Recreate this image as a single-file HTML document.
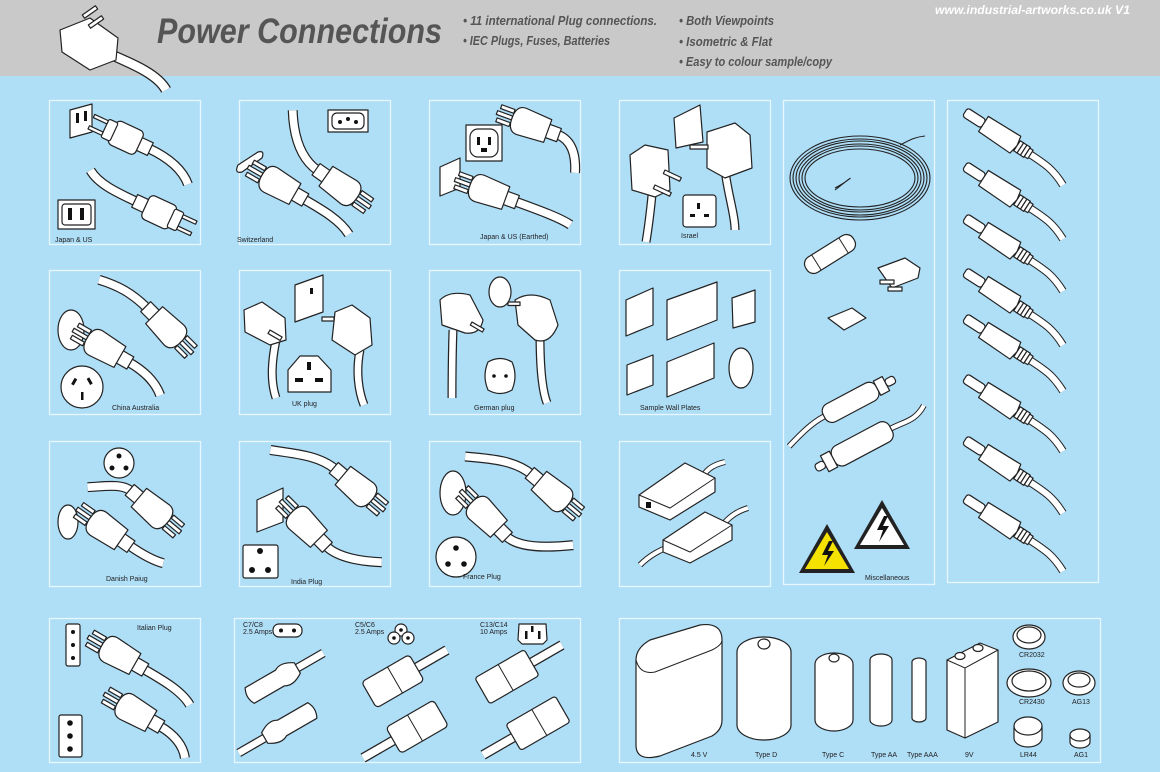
<!DOCTYPE html>
<html><head><meta charset="utf-8"><style>
html,body{margin:0;padding:0;background:#afdef7;}
svg{display:block;font-family:"Liberation Sans",sans-serif;}
.o{fill:#fff;stroke:#222;stroke-width:1.2;stroke-linejoin:round}
.k{fill:#111}
.ca{fill:none;stroke:#222;stroke-width:10}
.cb{fill:none;stroke:#fff;stroke-width:7.6}
.lb{font-size:7px;fill:#222}
.hd{font-style:italic;font-weight:bold;fill:#555;font-size:12.5px}
</style></head><body>
<svg width="1160" height="772" viewBox="0 0 1160 772" xmlns="http://www.w3.org/2000/svg">
<defs>
<g id="pl">
<rect x="-50" y="-7" width="14" height="14" class="o"/>
<rect x="-38" y="-13" width="30" height="26" rx="5" class="o"/>
<rect x="-10" y="-10" width="10" height="20" rx="2" class="o"/>
<rect x="0" y="-8" width="15" height="3.5" class="o"/>
<rect x="0" y="4.5" width="15" height="3.5" class="o"/>
</g>
<g id="pl3">
<rect x="-50" y="-7" width="14" height="14" class="o"/>
<path d="M-38,-12 L-10,-14 Q0,-14 0,0 Q0,14 -10,14 L-38,12 Z" class="o"/>
<rect x="0" y="-9" width="14" height="4" class="o"/>
<rect x="0" y="5" width="14" height="4" class="o"/>
<rect x="0" y="-2" width="16" height="4" class="o"/>
</g>
<g id="jk">
<path d="M78,0 C95,0 105,0 122,8" fill="none" stroke="#222" stroke-width="8"/><path d="M78,0 C95,0 105,0 122,8" fill="none" stroke="#fff" stroke-width="6"/>
<rect x="0" y="-5" width="22" height="10" rx="3" class="o"/>
<path d="M22,-9 L60,-10 L62,0 L60,10 L22,9 Z" class="o"/>
<rect x="62" y="-6" width="4" height="12" class="o"/><rect x="66" y="-6" width="4" height="12" class="o"/><rect x="70" y="-6" width="4" height="12" class="o"/><rect x="74" y="-5" width="4" height="10" class="o"/>
</g>
</defs>

<!-- header -->
<rect x="0" y="0" width="1160" height="76" fill="#c9c9c9"/>
<path d="M112,55 C135,65 158,75 166,90" fill="none" stroke="#222" stroke-width="11"/>
<path d="M112,55 C135,65 158,75 166,90" fill="none" stroke="#fff" stroke-width="8.5"/>
<path d="M60,30 L90,18 L118,38 L116,60 L90,70 L62,52 Z" class="o"/>
<rect x="82" y="10" width="16" height="4" class="o" transform="rotate(-35 90 12)"/>
<rect x="88" y="20" width="16" height="4" class="o" transform="rotate(-35 96 22)"/>
<text x="157" y="43" font-size="35" font-weight="bold" font-style="italic" fill="#555" textLength="285" lengthAdjust="spacingAndGlyphs">Power Connections</text>
<text x="463" y="25" class="hd" textLength="194" lengthAdjust="spacingAndGlyphs">• 11 international Plug connections.</text>
<text x="463" y="45" class="hd" textLength="147" lengthAdjust="spacingAndGlyphs">• IEC Plugs, Fuses, Batteries</text>
<text x="679" y="25" class="hd" textLength="95" lengthAdjust="spacingAndGlyphs">• Both Viewpoints</text>
<text x="679" y="46" class="hd" textLength="93" lengthAdjust="spacingAndGlyphs">• Isometric  &amp; Flat</text>
<text x="679" y="66" class="hd" textLength="153" lengthAdjust="spacingAndGlyphs">• Easy to colour sample/copy</text>
<text x="935" y="14" font-size="12" font-weight="bold" font-style="italic" fill="#fff" textLength="195" lengthAdjust="spacingAndGlyphs">www.industrial-artworks.co.uk   V1</text>

<!-- panels -->
<g fill="none" stroke="#e8f6fd" stroke-width="1.3">
<rect x="49.5" y="100.5" width="151" height="144"/><rect x="239.5" y="100.5" width="151" height="144"/><rect x="429.5" y="100.5" width="151" height="144"/><rect x="619.5" y="100.5" width="151" height="144"/>
<rect x="783.5" y="100.5" width="151" height="484"/><rect x="947.5" y="100.5" width="151" height="482"/>
<rect x="49.5" y="270.5" width="151" height="144"/><rect x="239.5" y="270.5" width="151" height="144"/><rect x="429.5" y="270.5" width="151" height="144"/><rect x="619.5" y="270.5" width="151" height="144"/>
<rect x="49.5" y="441.5" width="151" height="145"/><rect x="239.5" y="441.5" width="151" height="145"/><rect x="429.5" y="441.5" width="151" height="145"/><rect x="619.5" y="441.5" width="151" height="145"/>
<rect x="49.5" y="618.5" width="151" height="144"/><rect x="234.5" y="618.5" width="346" height="144"/><rect x="619.5" y="618.5" width="481" height="144"/>
</g>

<!-- Japan & US -->
<path d="M70,110 L92,104 L92,132 L70,138 Z" class="o"/><rect x="76" y="113" width="3" height="10" class="k"/><rect x="84" y="111" width="3" height="10" class="k"/>
<g transform="translate(105,128) rotate(205)"><path d="M-48,0 C-70,0 -88,-5 -99,-16" class="ca"/><path d="M-48,0 C-70,0 -88,-5 -99,-16" class="cb"/><use href="#pl"/></g>
<g transform="translate(180,222) rotate(25)"><path d="M-48,0 C-70,0 -90,0 -103,-9" class="ca"/><path d="M-48,0 C-70,0 -90,0 -103,-9" class="cb"/><use href="#pl"/></g>
<rect x="58" y="200" width="37" height="29" class="o"/><rect x="62" y="204" width="29" height="21" rx="3" class="o"/><rect x="68" y="208" width="4" height="12" class="k"/><rect x="80" y="208" width="4" height="12" class="k"/>
<text x="55" y="242" class="lb">Japan &amp; US</text>

<!-- Switzerland -->
<rect x="328" y="110" width="40" height="22" class="o"/><rect x="332" y="113" width="32" height="16" rx="5" class="o"/><circle cx="340" cy="122" r="2" class="k"/><circle cx="348" cy="119" r="2" class="k"/><circle cx="356" cy="122" r="2" class="k"/>
<path d="M238,165 L258,152 Q265,150 262,158 L242,172 Q234,174 238,165Z" class="o"/>
<g transform="translate(357,198) rotate(35)"><path d="M-48,0 C-70,0 -88,-15 -103,-35" class="ca"/><path d="M-48,0 C-70,0 -88,-15 -103,-35" class="cb"/><use href="#pl3"/></g>
<g transform="translate(262,175) rotate(210)"><path d="M-48,0 C-70,0 -90,0 -105,-8" class="ca"/><path d="M-48,0 C-70,0 -90,0 -105,-8" class="cb"/><use href="#pl3"/></g>
<text x="237" y="242" class="lb">Switzerland</text>

<!-- Japan US earthed -->
<rect x="466" y="125" width="36" height="36" class="o"/><rect x="470" y="129" width="28" height="28" rx="8" class="o"/><rect x="477" y="137" width="3" height="8" class="k"/><rect x="488" y="137" width="3" height="8" class="k"/><rect x="481" y="148" width="6" height="4" class="k"/>
<path d="M440,167 L460,158 L460,188 L440,196 Z" class="o"/>
<g transform="translate(512,118) rotate(200)"><path d="M-48,0 C-62,0 -72,-10 -78,-30" class="ca"/><path d="M-48,0 C-62,0 -72,-10 -78,-30" class="cb"/><use href="#pl3"/></g>
<g transform="translate(470,185) rotate(200)"><path d="M-48,0 C-75,0 -95,0 -108,-3" class="ca"/><path d="M-48,0 C-75,0 -95,0 -108,-3" class="cb"/><use href="#pl3"/></g>
<text x="480" y="239" class="lb">Japan &amp; US (Earthed)</text>

<!-- Israel -->
<path d="M652,195 C650,215 648,230 646,242" fill="none" stroke="#222" stroke-width="9"/><path d="M652,195 C650,215 648,230 646,242" fill="none" stroke="#fff" stroke-width="6.5"/>
<path d="M725,170 C728,195 735,215 735,230" fill="none" stroke="#222" stroke-width="9"/><path d="M725,170 C728,195 735,215 735,230" fill="none" stroke="#fff" stroke-width="6.5"/>
<path d="M630,155 L645,145 L668,150 L670,190 L655,197 L632,190 Z" class="o"/>
<rect x="665" y="170" width="18" height="4" class="o" transform="rotate(25 665 170)"/><rect x="655" y="185" width="18" height="4" class="o" transform="rotate(25 655 185)"/>
<path d="M707,132 L735,123 L750,135 L752,168 L725,178 L707,168 Z" class="o"/>
<rect x="690" y="145" width="18" height="4" class="o"/>
<path d="M674,118 L700,105 L703,142 L676,148 Z" class="o"/>
<rect x="683" y="195" width="33" height="32" rx="3" class="o"/><rect x="697" y="203" width="3" height="6" class="k"/><rect x="690" y="214" width="5" height="3" class="k"/><rect x="704" y="214" width="5" height="3" class="k"/>
<text x="681" y="238" class="lb">Israel</text>

<!-- Miscellaneous -->
<g fill="none" stroke="#222" stroke-width="1.1">
<ellipse cx="860" cy="178" rx="70" ry="42"/><ellipse cx="860" cy="178" rx="67" ry="39"/><ellipse cx="860" cy="178" rx="64" ry="37"/><ellipse cx="860" cy="178" rx="61" ry="34"/><ellipse cx="860" cy="178" rx="58" ry="32"/><ellipse cx="860" cy="178" rx="55" ry="29"/>
<path d="M900,145 C910,140 915,137 925,136"/><path d="M835,188 C850,180 860,170 835,190"/>
</g>
<g transform="translate(830,254) rotate(-32)"><rect x="-28" y="-9" width="56" height="18" rx="8" class="o"/><line x1="-16" y1="-9" x2="-16" y2="9" stroke="#222"/><line x1="16" y1="-9" x2="16" y2="9" stroke="#222"/></g>
<path d="M878,268 L905,258 L920,268 L918,278 L892,288 Z" class="o"/><rect x="880" y="280" width="14" height="4" class="o"/><rect x="888" y="287" width="14" height="4" class="o"/>
<path d="M828,318 L852,308 L866,318 L844,330 Z" class="o"/>
<g transform="translate(855,400) rotate(-28)"><path d="M-35,0 C-50,0 -65,5 -80,10" fill="none" stroke="#222" stroke-width="6"/><path d="M-35,0 C-50,0 -65,5 -80,10" fill="none" stroke="#fff" stroke-width="4"/><rect x="-35" y="-10" width="60" height="20" rx="8" class="o"/><rect x="25" y="-8" width="10" height="16" class="o"/><rect x="35" y="-4" width="10" height="8" rx="3" class="o"/></g>
<g transform="translate(860,445) rotate(152)"><path d="M-35,0 C-50,0 -60,-5 -75,5" fill="none" stroke="#222" stroke-width="6"/><path d="M-35,0 C-50,0 -60,-5 -75,5" fill="none" stroke="#fff" stroke-width="4"/><rect x="-35" y="-11" width="65" height="22" rx="8" class="o"/><rect x="30" y="-9" width="10" height="18" class="o"/><rect x="40" y="-4" width="10" height="8" rx="3" class="o"/></g>
<path d="M827,524 L855,573 L799,573 Z" fill="#222"/><path d="M827,532 L849,569 L805,569 Z" fill="#f5e200"/><path d="M829,541 L822,555 L828,555 L824,566 L834,551 L828,551 L833,541Z" fill="#111"/>
<path d="M882,500 L910,549 L854,549 Z" fill="#222"/><path d="M882,508 L904,545 L860,545 Z" fill="#fff"/><path d="M884,516 L877,530 L883,530 L879,542 L889,526 L883,526 L888,516Z" fill="#111"/>
<text x="865" y="580" class="lb">Miscellaneous</text>

<!-- jacks -->
<use href="#jk" transform="translate(965,112) rotate(33)"/>
<use href="#jk" transform="translate(965,166) rotate(33)"/>
<use href="#jk" transform="translate(965,218) rotate(33)"/>
<use href="#jk" transform="translate(965,272) rotate(33)"/>
<use href="#jk" transform="translate(965,318) rotate(33)"/>
<use href="#jk" transform="translate(965,378) rotate(33)"/>
<use href="#jk" transform="translate(965,440) rotate(33)"/>
<use href="#jk" transform="translate(965,498) rotate(33)"/>

<!-- China Australia -->
<ellipse cx="71" cy="330" rx="13" ry="20" class="o"/><circle cx="82" cy="387" r="21" class="o"/><rect x="73" y="378" width="3" height="7" class="k" transform="rotate(30 74 381)"/><rect x="88" y="378" width="3" height="7" class="k" transform="rotate(-30 89 381)"/><rect x="81" y="392" width="2.5" height="8" class="k"/>
<g transform="translate(181,342) rotate(45)"><path d="M-48,0 C-70,0 -85,5 -102,14" class="ca"/><path d="M-48,0 C-70,0 -85,5 -102,14" class="cb"/><use href="#pl3"/></g>
<g transform="translate(87,338) rotate(210)"><path d="M-48,0 C-65,0 -80,-3 -92,-13" class="ca"/><path d="M-48,0 C-65,0 -80,-3 -92,-13" class="cb"/><use href="#pl3"/></g>
<text x="112" y="410" class="lb">China Australia</text>

<!-- UK -->
<path d="M276,340 C272,360 270,380 276,398" class="ca" style="stroke-width:9"/><path d="M276,340 C272,360 270,380 276,398" class="cb" style="stroke-width:6.5"/>
<path d="M360,350 C356,370 358,390 364,405" class="ca" style="stroke-width:9"/><path d="M360,350 C356,370 358,390 364,405" class="cb" style="stroke-width:6.5"/>
<path d="M244,310 L262,302 L285,318 L286,340 L270,345 L245,332 Z" class="o"/><rect x="270" y="330" width="14" height="4" class="o" transform="rotate(30 270 330)"/>
<path d="M335,312 L352,305 L370,318 L372,345 L355,355 L332,340 Z" class="o"/><rect x="322" y="317" width="12" height="4" class="o"/>
<path d="M295,285 L323,275 L323,312 L295,322 Z" class="o"/><rect x="310" y="288" width="3" height="6" class="k"/>
<path d="M300,356 L318,356 L331,370 L331,392 L288,392 L288,370 Z" class="o"/><rect x="307" y="362" width="4" height="8" class="k"/><rect x="295" y="378" width="8" height="4" class="k"/><rect x="315" y="378" width="8" height="4" class="k"/>
<text x="292" y="406" class="lb">UK plug</text>

<!-- German -->
<path d="M453,330 C452,360 452,380 452,398" class="ca" style="stroke-width:9"/><path d="M453,330 C452,360 452,380 452,398" class="cb" style="stroke-width:6.5"/>
<path d="M540,335 C540,365 542,390 547,403" class="ca" style="stroke-width:9"/><path d="M540,335 C540,365 542,390 547,403" class="cb" style="stroke-width:6.5"/>
<path d="M440,300 Q450,290 470,295 L483,320 Q480,335 465,333 L442,325 Z" class="o"/><rect x="472" y="322" width="14" height="3.5" class="o" transform="rotate(30 472 322)"/>
<path d="M515,300 Q530,290 550,300 L558,325 Q550,345 535,340 L518,325 Z" class="o"/><rect x="508" y="302" width="12" height="3.5" class="o"/>
<ellipse cx="500" cy="292" rx="11" ry="15" class="o"/>
<path d="M488,362 Q500,355 512,362 Q518,376 512,390 Q500,397 488,390 Q482,376 488,362Z" class="o"/><circle cx="494" cy="376" r="1.8" class="k"/><circle cx="506" cy="376" r="1.8" class="k"/>
<text x="474" y="410" class="lb">German plug</text>

<!-- Wall plates -->
<path d="M626,300 L653,288 L653,325 L626,336 Z" class="o"/><path d="M667,300 L717,282 L717,320 L667,340 Z" class="o"/><path d="M732,298 L755,290 L755,322 L733,328 Z" class="o"/>
<path d="M627,365 L653,355 L653,385 L627,395 Z" class="o"/><path d="M667,362 L714,343 L714,378 L667,397 Z" class="o"/><ellipse cx="741" cy="368" rx="12" ry="20" class="o"/>
<text x="640" y="410" class="lb">Sample Wall Plates</text>

<!-- Danish -->
<circle cx="119" cy="463" r="15" class="o"/><circle cx="119" cy="456" r="2.5" class="k"/><circle cx="112" cy="468" r="2.5" class="k"/><circle cx="126" cy="468" r="2.5" class="k"/>
<ellipse cx="68" cy="522" rx="10" ry="17" class="o"/>
<g transform="translate(168,522) rotate(40)"><path d="M-48,0 C-60,0 -70,12 -84,25" class="ca"/><path d="M-48,0 C-60,0 -70,12 -84,25" class="cb"/><use href="#pl3"/></g>
<g transform="translate(90,518) rotate(215)"><path d="M-48,0 C-65,0 -78,2 -86,5" class="ca"/><path d="M-48,0 C-65,0 -78,2 -86,5" class="cb"/><use href="#pl3"/></g>
<text x="106" y="581" class="lb">Danish Paiug</text>

<!-- India -->
<g transform="translate(372,500) rotate(40)"><path d="M-48,0 C-70,0 -90,15 -110,27" class="ca"/><path d="M-48,0 C-70,0 -90,15 -110,27" class="cb"/><use href="#pl3"/></g>
<path d="M257,500 L283,488 L283,522 L257,532 Z" class="o"/>
<rect x="243" y="545" width="35" height="33" rx="2" class="o"/><circle cx="260" cy="551" r="3" class="k"/><circle cx="252" cy="570" r="3" class="k"/><circle cx="268" cy="570" r="3" class="k"/>
<g transform="translate(292,512) rotate(225)"><path d="M-48,0 C-65,0 -85,15 -99,28" class="ca"/><path d="M-48,0 C-65,0 -85,15 -99,28" class="cb"/><use href="#pl3"/></g>
<text x="291" y="584" class="lb">India Plug</text>

<!-- France -->
<g transform="translate(568,505) rotate(40)"><path d="M-48,0 C-70,0 -90,15 -110,29" class="ca"/><path d="M-48,0 C-70,0 -90,15 -110,29" class="cb"/><use href="#pl3"/></g>
<ellipse cx="453" cy="493" rx="13" ry="22" class="o"/>
<g transform="translate(472,502) rotate(225)"><path d="M-48,0 C-65,0 -85,20 -102,41" class="ca"/><path d="M-48,0 C-65,0 -85,20 -102,41" class="cb"/><use href="#pl3"/></g>
<circle cx="456" cy="557" r="20" class="o"/><circle cx="456" cy="548" r="2.8" class="k"/><circle cx="448" cy="564" r="2.8" class="k"/><circle cx="464" cy="564" r="2.8" class="k"/>
<text x="463" y="579" class="lb">France Plug</text>

<!-- Adapters -->
<path d="M700,482 C705,470 712,465 725,462" fill="none" stroke="#222" stroke-width="6"/><path d="M700,482 C705,470 712,465 725,462" fill="none" stroke="#fff" stroke-width="4"/>
<path d="M720,528 C728,518 735,512 748,508" fill="none" stroke="#222" stroke-width="6"/><path d="M720,528 C728,518 735,512 748,508" fill="none" stroke="#fff" stroke-width="4"/>
<path d="M673,545 C660,550 650,555 640,565" fill="none" stroke="#222" stroke-width="6"/><path d="M673,545 C660,550 650,555 640,565" fill="none" stroke="#fff" stroke-width="4"/>
<path d="M639,495 L685,463 L715,478 L715,492 L670,520 L639,507 Z" class="o"/><path d="M639,495 L670,508 L715,478" fill="none" stroke="#222"/><rect x="646" y="502" width="5" height="6" class="k"/>
<path d="M663,540 L705,512 L732,525 L732,540 L690,563 L663,552 Z" class="o"/><path d="M663,540 L690,552 L732,525" fill="none" stroke="#222"/>

<!-- Italian -->
<rect x="66" y="624" width="14" height="42" rx="2" class="o"/><circle cx="73" cy="632" r="2" class="k"/><circle cx="73" cy="645" r="2" class="k"/><circle cx="73" cy="658" r="2" class="k"/>
<g transform="translate(102,645) rotate(210)"><path d="M-48,0 C-70,0 -92,0 -106,-8" class="ca"/><path d="M-48,0 C-70,0 -92,0 -106,-8" class="cb"/><use href="#pl3"/></g>
<g transform="translate(118,702) rotate(210)"><path d="M-48,0 C-65,0 -78,-5 -86,-15" class="ca"/><path d="M-48,0 C-65,0 -78,-5 -86,-15" class="cb"/><use href="#pl3"/></g>
<rect x="59" y="715" width="23" height="42" rx="2" class="o"/><circle cx="70" cy="723" r="2.8" class="k"/><circle cx="70" cy="736" r="2.8" class="k"/><circle cx="70" cy="749" r="2.8" class="k"/>
<text x="137" y="630" class="lb">Italian Plug</text>

<!-- IEC -->
<text x="243" y="627" class="lb">C7/C8</text><text x="243" y="634" class="lb">2.5 Amps</text>
<text x="355" y="627" class="lb">C5/C6</text><text x="355" y="634" class="lb">2.5 Amps</text>
<text x="480" y="627" class="lb">C13/C14</text><text x="480" y="634" class="lb">10 Amps</text>
<rect x="273" y="624" width="29" height="13" rx="6" class="o"/><circle cx="281" cy="630.5" r="2" class="k"/><circle cx="294" cy="630.5" r="2" class="k"/>
<circle cx="401" cy="630" r="6" class="o"/><circle cx="394" cy="638" r="6" class="o"/><circle cx="408" cy="638" r="6" class="o"/><circle cx="401" cy="630" r="1.8" class="k"/><circle cx="394" cy="638" r="1.8" class="k"/><circle cx="408" cy="638" r="1.8" class="k"/>
<path d="M519,624 L546,624 L547,640 L543,644 L522,644 L518,640 Z" class="o"/><rect x="525" y="631" width="2.5" height="8" class="k"/><rect x="538" y="631" width="2.5" height="8" class="k"/><rect x="531" y="626" width="2.5" height="6" class="k"/>
<g transform="translate(280,678) rotate(-30)"><path d="M20,0 L50,0" class="ca" style="stroke-width:9"/><path d="M20,0 L50,0" class="cb" style="stroke-width:6.5"/><path d="M-35,-9 L0,-9 Q8,-14 20,-6 L20,6 Q8,14 0,9 L-35,9 Q-40,0 -35,-9Z" class="o"/></g>
<g transform="translate(282,728) rotate(150)"><path d="M20,0 L50,0" class="ca" style="stroke-width:9"/><path d="M20,0 L50,0" class="cb" style="stroke-width:6.5"/><path d="M-35,-9 L0,-9 Q8,-14 20,-6 L20,6 Q8,14 0,9 L-35,9 Q-40,0 -35,-9Z" class="o"/></g>
<g transform="translate(395,680) rotate(-30)"><path d="M25,0 L60,0" class="ca" style="stroke-width:10"/><path d="M25,0 L60,0" class="cb" style="stroke-width:7.5"/><rect x="-30" y="-15" width="55" height="30" rx="4" class="o"/><line x1="0" y1="-15" x2="0" y2="15" stroke="#222"/></g>
<g transform="translate(415,728) rotate(150)"><path d="M25,0 L60,0" class="ca" style="stroke-width:10"/><path d="M25,0 L60,0" class="cb" style="stroke-width:7.5"/><rect x="-30" y="-15" width="55" height="30" rx="4" class="o"/><line x1="0" y1="-15" x2="0" y2="15" stroke="#222"/></g>
<g transform="translate(510,675) rotate(-30)"><path d="M25,0 L60,0" class="ca" style="stroke-width:10"/><path d="M25,0 L60,0" class="cb" style="stroke-width:7.5"/><rect x="-32" y="-15" width="57" height="30" rx="3" class="o"/><line x1="-5" y1="-15" x2="-5" y2="15" stroke="#222"/></g>
<g transform="translate(535,725) rotate(150)"><path d="M25,0 L60,0" class="ca" style="stroke-width:10"/><path d="M25,0 L60,0" class="cb" style="stroke-width:7.5"/><rect x="-32" y="-15" width="57" height="30" rx="3" class="o"/><line x1="-5" y1="-15" x2="-5" y2="15" stroke="#222"/></g>

<!-- Batteries -->
<path d="M636,660 Q636,648 650,640 L700,625 Q722,622 722,640 L722,720 Q722,730 712,736 L660,756 Q636,762 636,745 Z" class="o"/>
<path d="M636,660 Q640,675 655,672 L712,650 Q722,645 722,640" fill="none" stroke="#222"/>
<ellipse cx="764" cy="652" rx="27" ry="15" class="o"/><path d="M737,652 L737,725 A27,15 0 0 0 791,725 L791,652" class="o"/><ellipse cx="764" cy="644" rx="6" ry="5" class="o"/>
<ellipse cx="834" cy="664" rx="19" ry="11" class="o"/><path d="M815,664 L815,720 A19,11 0 0 0 853,720 L853,664" class="o"/><ellipse cx="834" cy="658" rx="5" ry="4" class="o"/>
<ellipse cx="881" cy="660" rx="11" ry="6" class="o"/><path d="M870,660 L870,720 A11,6 0 0 0 892,720 L892,660" class="o"/>
<ellipse cx="919" cy="662" rx="7" ry="4" class="o"/><path d="M912,662 L912,718 A7,4 0 0 0 926,718 L926,662" class="o"/>
<path d="M947,660 L980,643 L998,650 L998,722 L965,738 L947,730 Z" class="o"/><path d="M947,660 L965,668 L998,650 M965,668 L965,738" fill="none" stroke="#222"/><ellipse cx="960" cy="656" rx="5" ry="3.5" class="o"/><ellipse cx="978" cy="648" rx="5" ry="3.5" class="o"/>
<ellipse cx="1029" cy="637" rx="16" ry="12" class="o"/><ellipse cx="1029" cy="635" rx="12" ry="8" class="o"/>
<ellipse cx="1029" cy="683" rx="22" ry="14" class="o"/><ellipse cx="1029" cy="681" rx="17" ry="10" class="o"/>
<ellipse cx="1079" cy="683" rx="16" ry="12" class="o"/><ellipse cx="1079" cy="680" rx="11" ry="7" class="o"/>
<path d="M1014,726 L1014,738 A14,9 0 0 0 1042,738 L1042,726" class="o"/><ellipse cx="1028" cy="726" rx="14" ry="9" class="o"/>
<path d="M1070,735 L1070,742 A10,6 0 0 0 1090,742 L1090,735" class="o"/><ellipse cx="1080" cy="735" rx="10" ry="6" class="o"/>
<text x="691" y="757" class="lb">4.5 V</text><text x="755" y="757" class="lb">Type D</text><text x="822" y="757" class="lb">Type C</text><text x="871" y="757" class="lb">Type AA</text><text x="907" y="757" class="lb">Type AAA</text><text x="965" y="757" class="lb">9V</text><text x="1020" y="757" class="lb">LR44</text><text x="1074" y="757" class="lb">AG1</text>
<text x="1019" y="657" class="lb">CR2032</text><text x="1019" y="704" class="lb">CR2430</text><text x="1072" y="704" class="lb">AG13</text>
</svg>
</body></html>
